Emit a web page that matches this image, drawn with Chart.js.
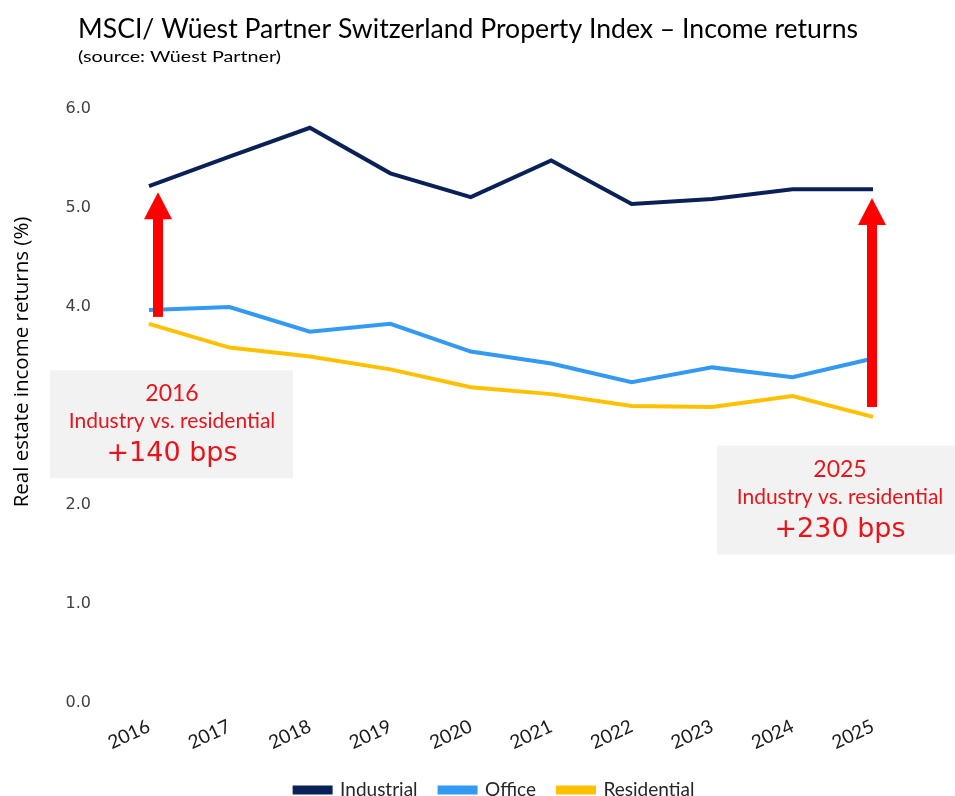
<!DOCTYPE html>
<html>
<head>
<meta charset="utf-8">
<script src="https://cdn.jsdelivr.net/npm/chart.js@4.4.0/dist/chart.umd.min.js"></script>
<style>
html,body{margin:0;padding:0;background:#fff;}
#wrap{width:955px;height:796px;position:relative;}
canvas{display:block;}
</style>
</head>
<body>
<div id="wrap"><canvas id="c" width="955" height="796"></canvas></div>
<script>
// ---- data ----
const years = ['2016','2017','2018','2019','2020','2021','2022','2023','2024','2025'];
const industrial  = [5.22, 5.52, 5.81, 5.35, 5.11, 5.48, 5.04, 5.09, 5.19, 5.19];
const office      = [3.97, 4.00, 3.75, 3.83, 3.55, 3.43, 3.24, 3.39, 3.29, 3.48];
const residential = [3.83, 3.59, 3.50, 3.37, 3.19, 3.12, 3.00, 2.99, 3.10, 2.89];
const seriesNames = ['Industrial', 'Office', 'Residential'];
const yTickMin = 0, yTickMax = 6, yTickStep = 1;

const titleText = 'MSCI/ Wüest Partner Switzerland Property Index – Income returns';
const subtitleText = '(source: Wüest Partner)';
const yTitleText = 'Real estate income returns (%)';
const noteYears = ['2016', '2025'];
const noteLine = 'Industry vs. residential';
const noteValues = ['+140 bps', '+230 bps'];

// ---- annotation layout (not data) ----
const arrows = [
  {i: 0, from: 3.90, to: 5.16, dx: 9},
  {i: 9, from: 2.99, to: 5.10, dx: -1}
];
const boxes = [
  {i: 0, left: -99, right: 144, top: 3.36, bottom: 2.27, cx: 23},
  {i: 9, left: -156, right: null, top: 2.60, bottom: 1.50, cx: -33}
];

const RED_TEXT = '#e8141c';

const decor = {
  id: 'decor',
  beforeDraw(chart) {
    const ctx = chart.ctx;
    ctx.save();
    ctx.fillStyle = '#ffffff';
    ctx.fillRect(0, 0, chart.width, chart.height);
    // title
    ctx.fillStyle = '#000000';
    ctx.textBaseline = 'alphabetic';
    ctx.textAlign = 'left';
    ctx.font = '27px Lato';
    const tw = ctx.measureText(titleText).width;
    ctx.save();
    ctx.translate(78, 38);
    ctx.scale(780 / tw, 1);
    ctx.fillText(titleText, 0, 0);
    ctx.restore();
    ctx.font = '16px Lato';
    const sw = ctx.measureText(subtitleText).width;
    ctx.save();
    ctx.translate(78, 62);
    ctx.scale(203 / sw, 1);
    ctx.fillText(subtitleText, 0, 0);
    ctx.restore();
    // y title
    ctx.save();
    ctx.translate(28, 362);
    ctx.rotate(-Math.PI / 2);
    ctx.textAlign = 'center';
    ctx.font = '20.5px "Open Sans"';
    ctx.fillText(yTitleText, 0, 0);
    ctx.restore();
    ctx.restore();
  },
  afterDatasetsDraw(chart) {
    const ctx = chart.ctx;
    const xs = chart.scales.x, ys = chart.scales.y;
    ctx.save();
    // arrows
    ctx.fillStyle = '#ff0000';
    arrows.forEach(a => {
      const x = xs.getPixelForValue(a.i) + a.dx;
      const yb = ys.getPixelForValue(a.from);
      const yt = ys.getPixelForValue(a.to);
      const headLen = 27, headW = 28, shaftW = 10;
      ctx.fillRect(x - shaftW / 2, yt + headLen - 1, shaftW, yb - yt - headLen + 1);
      ctx.beginPath();
      ctx.moveTo(x, yt);
      ctx.lineTo(x + headW / 2, yt + headLen);
      ctx.lineTo(x - headW / 2, yt + headLen);
      ctx.closePath();
      ctx.fill();
    });
    // boxes
    boxes.forEach((b, k) => {
      const x0 = xs.getPixelForValue(b.i);
      const l = x0 + b.left;
      const r = b.right === null ? chart.width : x0 + b.right;
      const t = ys.getPixelForValue(b.top);
      const bt = ys.getPixelForValue(b.bottom);
      ctx.fillStyle = '#f2f2f2';
      ctx.fillRect(l, t, r - l, bt - t);
      const cx = x0 + b.cx;
      ctx.fillStyle = RED_TEXT;
      ctx.textAlign = 'center';
      ctx.textBaseline = 'alphabetic';
      ctx.font = '23px Lato';
      ctx.fillText(noteYears[k], cx, t + 31);
      ctx.font = '21px Lato';
      ctx.fillText(noteLine, cx, t + 58);
      ctx.font = '27px "DejaVu Sans"';
      ctx.fillText(noteValues[k], cx, t + 91);
    });
    ctx.restore();
  }
};

const lineColors = ['#0a2158', '#3399f3', '#ffc000'];
const seriesData = [industrial, office, residential];

new Chart(document.getElementById('c'), {
  type: 'line',
  data: {
    labels: years,
    datasets: seriesNames.map((n, k) => ({
      label: n,
      data: seriesData[k],
      borderColor: lineColors[k],
      backgroundColor: lineColors[k],
      borderWidth: 4,
      pointRadius: 0,
      tension: 0,
      fill: false,
      borderJoinStyle: 'miter'
    }))
  },
  options: {
    responsive: false,
    animation: false,
    devicePixelRatio: 1,
    layout: {padding: {top: 109, left: 34, right: 0, bottom: -13.5}},
    plugins: {
      legend: {
        position: 'bottom',
        labels: {
          boxWidth: 36,
          boxHeight: 5,
          padding: 22,
          color: '#262626',
          font: {family: 'Lato', size: 19}
        }
      },
      title: {display: false},
      tooltip: {enabled: false}
    },
    scales: {
      x: {
        grid: {display: false, drawTicks: false},
        border: {display: false},
        ticks: {
          minRotation: 25, maxRotation: 25,
          padding: 12,
          color: '#1a1a1a',
          font: {family: 'Lato', size: 19}
        },
        afterFit(s) { s.height = 55.5; }
      },
      y: {
        min: yTickMin, max: yTickMax,
        grid: {display: false, drawTicks: false},
        border: {display: false},
        ticks: {
          stepSize: yTickStep,
          padding: 58,
          color: '#404040',
          font: {family: 'DejaVu Sans', size: 16},
          callback: v => Number(v).toFixed(1)
        },
        afterFit(s) { s.width = 115; }
      },
      yRight: {
        type: 'linear',
        position: 'right',
        min: yTickMin, max: yTickMax,
        grid: {display: false, drawTicks: false},
        border: {display: false},
        ticks: {display: false},
        afterFit(s) { s.width = 82; }
      }
    }
  },
  plugins: [decor]
});
</script>
</body>
</html>
